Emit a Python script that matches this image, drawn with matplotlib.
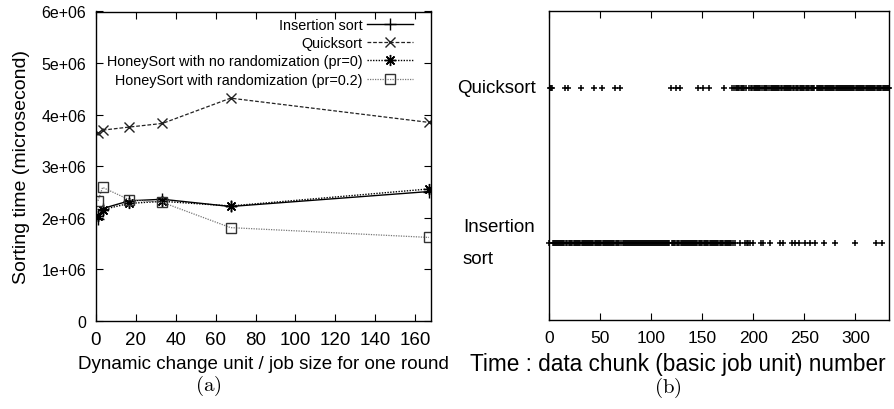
import matplotlib
matplotlib.use('Agg')
import matplotlib.pyplot as plt
import numpy as np

plt.rcParams['font.family'] = ['Liberation Sans', 'DejaVu Sans']
plt.rcParams['mathtext.fontset'] = 'cm'

# (a) sorting time vs dynamic change unit
unit_sizes = [1, 3.3, 16.7, 33.3, 67.5, 167]
insertion_time = [1.98e6, 2.18e6, 2.33e6, 2.36e6, 2.22e6, 2.51e6]
quick_time = [3.64e6, 3.70e6, 3.76e6, 3.83e6, 4.32e6, 3.85e6]
honey_pr0_time = [2.03e6, 2.16e6, 2.28e6, 2.32e6, 2.23e6, 2.56e6]
honey_pr02_time = [2.33e6, 2.59e6, 2.35e6, 2.30e6, 1.81e6, 1.62e6]

# (b) algorithm chosen for each data chunk, run-length encoded (algo, count)
chunk_runs = [
    ('I', 1), ('Q', 3), ('I', 12), ('Q', 1), ('I', 2), ('Q', 1), ('I', 11),
    ('Q', 1), ('I', 12), ('Q', 1), ('I', 7), ('Q', 1), ('I', 12), ('Q', 1),
    ('I', 4), ('Q', 1), ('I', 48), ('Q', 1), ('I', 4), ('Q', 1), ('I', 3),
    ('Q', 1), ('I', 17), ('Q', 1), ('I', 4), ('Q', 1), ('I', 5), ('Q', 1),
    ('I', 13), ('Q', 1), ('I', 7), ('Q', 1), ('I', 1), ('Q', 1), ('I', 1),
    ('Q', 4), ('I', 1), ('Q', 4), ('I', 1), ('Q', 1), ('I', 2), ('Q', 1),
    ('I', 1), ('Q', 2), ('I', 1), ('Q', 7), ('I', 1), ('Q', 1), ('I', 1),
    ('Q', 5), ('I', 1), ('Q', 9), ('I', 1), ('Q', 2), ('I', 1), ('Q', 8),
    ('I', 1), ('Q', 2), ('I', 1), ('Q', 3), ('I', 1), ('Q', 5), ('I', 1),
    ('Q', 4), ('I', 1), ('Q', 4), ('I', 1), ('Q', 7), ('I', 1), ('Q', 10),
    ('I', 1), ('Q', 19), ('I', 1), ('Q', 19), ('I', 1), ('Q', 5), ('I', 1),
    ('Q', 7),
]
row_labels = ['Insertion\nsort', 'Quicksort']

chunk_algo = ''.join(a * n for a, n in chunk_runs)
quick_chunks = [i for i, a in enumerate(chunk_algo) if a == 'Q']
insert_chunks = [i for i, a in enumerate(chunk_algo) if a == 'I']

fig = plt.figure(figsize=(8.95, 4.10), dpi=100)
ax1 = fig.add_axes([96/895, 1-322/410, 335/895, 309.5/410])
ax2 = fig.add_axes([549/895, 1-321/410, 340/895, 309.5/410])

ax1.plot(unit_sizes, insertion_time, color='black', lw=1.0, marker='+', ms=8, mew=1.0,
         label='Insertion sort')
ax1.plot(unit_sizes, quick_time, color='#222222', lw=0.9, ls=(0, (3, 1.5)), marker='x', ms=7,
         mew=1.0, label='Quicksort')
ax1.plot(unit_sizes, honey_pr0_time, color='black', lw=1.0, ls=(0, (1, 1)), marker=(8, 2, 0),
         ms=8, mew=1.0, label='HoneySort with no randomization (pr=0)')
ax1.plot(unit_sizes, honey_pr02_time, color='#777777', lw=0.9, ls=(0, (1, 1)), marker='s',
         ms=7, mfc='none', mec='#333333', mew=1.0, label='HoneySort with randomization (pr=0.2)')

ax1.set_xlim(0, 168)
ax1.set_ylim(0, 6e6)
ax1.set_xticks(np.arange(0, 161, 20))
ax1.set_yticks(np.arange(0, 6.1e6, 1e6))
ax1.set_yticklabels(['0', '1e+06', '2e+06', '3e+06', '4e+06', '5e+06', '6e+06'])
ax1.tick_params(direction='in', top=True, right=True, length=5, width=0.8, pad=7)
ax1.tick_params(axis='y', labelsize=11.5)
ax1.tick_params(axis='x', labelsize=13.5)
ax1.set_xlabel('Dynamic change unit / job size for one round', fontsize=13.5, labelpad=5)
ax1.set_ylabel('Sorting time (microsecond)', fontsize=14, labelpad=8)
ax1.legend(loc='upper right', bbox_to_anchor=(0.947, 0.98), frameon=False, markerfirst=False,
           fontsize=10.4, handlelength=3.2, handletextpad=0.3, labelspacing=0.3,
           borderaxespad=0, borderpad=0)

ax2.plot(quick_chunks, [0.75] * len(quick_chunks), ls='none', marker='+', ms=4.5, mew=1.1,
         color='black', clip_on=False)
ax2.plot(insert_chunks, [0.25] * len(insert_chunks), ls='none', marker='+', ms=4.5, mew=1.1,
         color='black', clip_on=False)
ax2.set_xlim(0, 333)
ax2.set_ylim(0, 1)
ax2.set_xticks(np.arange(0, 301, 50))
ax2.set_yticks([])
ax2.tick_params(direction='in', top=True, length=5, width=0.8, labelsize=12.5, pad=7)
ax2.set_xlabel('Time : data chunk (basic job unit) number', fontsize=16.3, labelpad=4)
ax2.xaxis.set_label_coords(0.378, -0.105)
tr = ax2.get_yaxis_transform()
ax2.text(-0.038, 0.75, row_labels[1], transform=tr, ha='right', va='center', fontsize=13.5)
ax2.text(-0.253, 0.25, row_labels[0], transform=tr, ha='left', va='center', fontsize=13.5,
         linespacing=2.1)

for ax in (ax1, ax2):
    for s in ax.spines.values():
        s.set_linewidth(1.0)

fig.text(208/895, 1-386/410, r'$\mathrm{(a)}$', ha='center', va='center', fontsize=15)
fig.text(668/895, 1-388/410, r'$\mathrm{(b)}$', ha='center', va='center', fontsize=15)

fig.savefig('out.png', dpi=100)
